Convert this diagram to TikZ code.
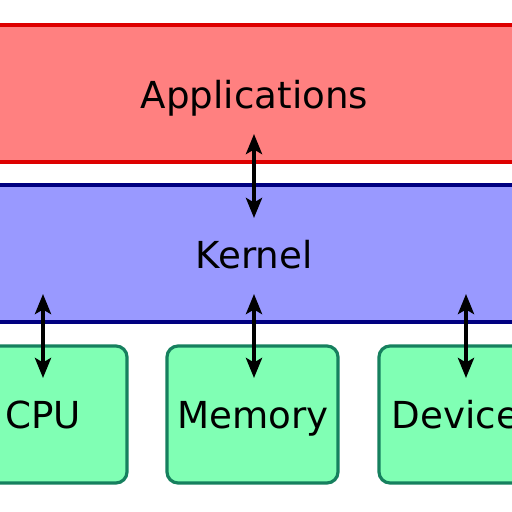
\documentclass[tikz,border=0pt]{standalone}
\usepackage{fontspec}
\setmainfont{DejaVu Sans}
\usetikzlibrary{arrows.meta}
\definecolor{appfill}{HTML}{FF8080}
\definecolor{appdraw}{HTML}{DD0000}
\definecolor{kerfill}{HTML}{9999FF}
\definecolor{kerdraw}{HTML}{000080}
\definecolor{hwfill}{HTML}{80FFB4}
\definecolor{hwdraw}{HTML}{16805E}
\tikzset{
  band/.style={line width=3.2pt},
  hwbox/.style={line width=3.2pt, rounded corners=11pt, fill=hwfill, draw=hwdraw},
  lbl/.style={anchor=base, inner sep=0pt, font=\fontsize{37.2}{40}\selectfont},
  dblarrow/.style={line width=4.2pt, black, {Stealth[length=20pt,width=16pt,inset=4.5pt]}-{Stealth[length=20pt,width=16pt,inset=4.5pt]}}
}
\begin{document}
\begin{tikzpicture}[x=1pt,y=-1pt]
\path[use as bounding box, clip] (0,0) rectangle (512,512);
\fill[white] (0,0) rectangle (512,512);
% bands
\draw[band, fill=appfill, draw=appdraw] (-20,25) rectangle (532,162);
\draw[band, fill=kerfill, draw=kerdraw] (-20,185) rectangle (532,322);
% hardware boxes
\draw[hwbox] (-44,346) rectangle (127,483);
\draw[hwbox] (167,346) rectangle (338,483);
\draw[hwbox] (379,346) rectangle (550,483);
% labels
\node[lbl] (apps) at (254.5,108) {Applications};
\node[lbl] (kernel) at (254,268) {Kernel};
\node[lbl] (cpu) at (43,428) {CPU};
\node[lbl] (mem) at (253,428) {Memory};
\node[lbl] (dev) at (465,428) {Devices};
% arrow endpoints
\coordinate (a1) at (254,134);
\coordinate (a2) at (254,218);
\coordinate (c1) at (43,294);
\coordinate (c2) at (43,378);
\coordinate (m1) at (254,294);
\coordinate (m2) at (254,378);
\coordinate (d1) at (466,294);
\coordinate (d2) at (466,378);
\draw[dblarrow] (a1) -- (a2);
\draw[dblarrow] (c1) -- (c2);
\draw[dblarrow] (m1) -- (m2);
\draw[dblarrow] (d1) -- (d2);
\end{tikzpicture}
\end{document}
